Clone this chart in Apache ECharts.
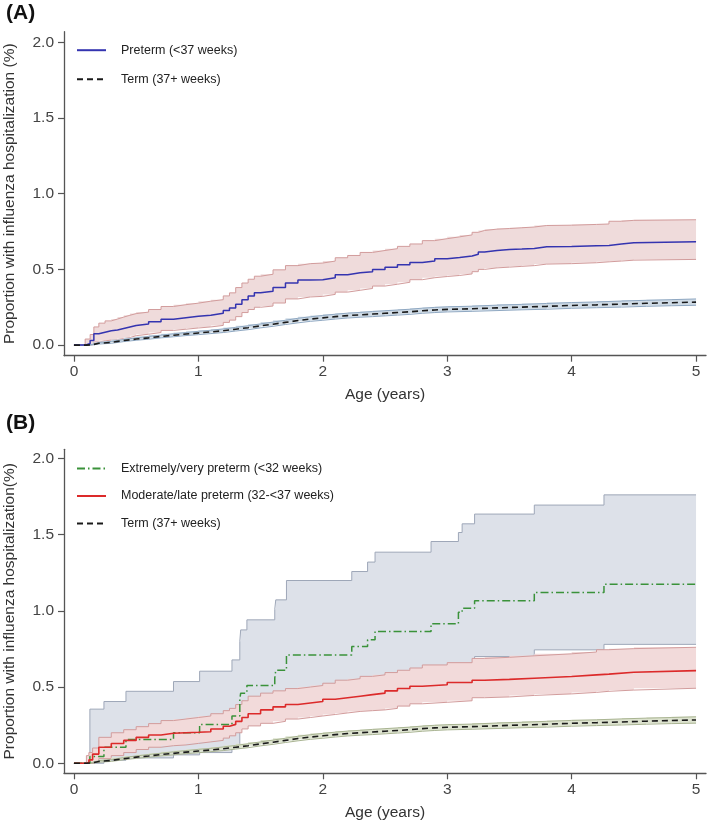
<!DOCTYPE html>
<html>
<head>
<meta charset="utf-8">
<script src="https://cdn.jsdelivr.net/npm/echarts@6/dist/echarts.min.js"></script>
<style>
html,body{margin:0;padding:0;background:#fff;}
#chart{width:709px;height:822px;}
</style>
</head>
<body>
<div id="chart"></div>
<script>
// ---------- Tick labels ----------
const xTicks = [0, 1, 2, 3, 4, 5];
const yTicks = [0, 0.5, 1.0, 1.5, 2.0];

// ---------- Panel A: Preterm (<37 weeks) ----------
const preT   = [0, 0.09, 0.13, 0.16, 0.2, 0.25, 0.3, 0.35, 0.4, 0.45, 0.5, 0.6, 0.7, 0.8, 0.9, 1.0, 1.1, 1.2, 1.25, 1.3, 1.35, 1.4, 1.45, 1.5, 1.6, 1.7, 1.8, 1.9, 2.0, 2.1, 2.2, 2.3, 2.4, 2.5, 2.6, 2.7, 2.8, 2.9, 3.0, 3.1, 3.2, 3.25, 3.3, 3.4, 3.5, 3.6, 3.7, 3.8, 4.0, 4.2, 4.3, 4.4, 4.5, 5.0];
const preEst = [0, 0.01, 0.03, 0.075, 0.085, 0.095, 0.1, 0.11, 0.12, 0.13, 0.14, 0.155, 0.17, 0.18, 0.19, 0.197, 0.21, 0.228, 0.245, 0.27, 0.3, 0.325, 0.345, 0.355, 0.38, 0.41, 0.43, 0.432, 0.445, 0.465, 0.478, 0.484, 0.5, 0.515, 0.53, 0.545, 0.556, 0.57, 0.578, 0.588, 0.6, 0.615, 0.625, 0.632, 0.634, 0.638, 0.65, 0.652, 0.656, 0.658, 0.667, 0.676, 0.682, 0.682];
const preHi  = [0, 0.04, 0.07, 0.12, 0.145, 0.16, 0.172, 0.185, 0.197, 0.208, 0.218, 0.235, 0.255, 0.267, 0.277, 0.29, 0.3, 0.325, 0.345, 0.38, 0.41, 0.435, 0.455, 0.468, 0.497, 0.525, 0.538, 0.542, 0.555, 0.577, 0.592, 0.612, 0.625, 0.637, 0.652, 0.668, 0.69, 0.703, 0.715, 0.728, 0.745, 0.757, 0.766, 0.77, 0.775, 0.78, 0.79, 0.792, 0.797, 0.8, 0.818, 0.824, 0.828, 0.828];
const preLo  = [0, 0, 0.005, 0.02, 0.028, 0.033, 0.037, 0.043, 0.05, 0.062, 0.072, 0.083, 0.097, 0.105, 0.113, 0.12, 0.13, 0.15, 0.165, 0.188, 0.215, 0.235, 0.25, 0.258, 0.278, 0.305, 0.318, 0.322, 0.335, 0.35, 0.362, 0.374, 0.39, 0.402, 0.415, 0.432, 0.445, 0.453, 0.46, 0.47, 0.485, 0.5, 0.51, 0.515, 0.52, 0.525, 0.535, 0.538, 0.544, 0.55, 0.555, 0.561, 0.566, 0.566];

// ---------- Term (37+ weeks), both panels ----------
const termT   = [0, 0.1, 0.15, 0.2, 0.3, 0.4, 0.5, 0.6, 0.7, 0.8, 0.9, 1.0, 1.1, 1.2, 1.3, 1.4, 1.5, 1.6, 1.7, 1.8, 1.9, 2.0, 2.1, 2.2, 2.3, 2.4, 2.5, 2.6, 2.7, 2.8, 2.9, 3.0, 3.2, 3.4, 3.6, 3.8, 4.0, 4.2, 4.4, 4.6, 4.8, 5.0];
const termEst = [0, 0.003, 0.012, 0.018, 0.03, 0.04, 0.048, 0.057, 0.065, 0.073, 0.08, 0.087, 0.095, 0.105, 0.115, 0.127, 0.138, 0.15, 0.162, 0.172, 0.18, 0.188, 0.195, 0.2, 0.205, 0.21, 0.215, 0.22, 0.227, 0.232, 0.236, 0.24, 0.246, 0.251, 0.256, 0.262, 0.266, 0.271, 0.276, 0.28, 0.284, 0.288];
const termHi  = [0, 0.005, 0.017, 0.024, 0.037, 0.048, 0.057, 0.066, 0.075, 0.083, 0.091, 0.098, 0.107, 0.117, 0.128, 0.14, 0.152, 0.164, 0.177, 0.187, 0.196, 0.204, 0.211, 0.216, 0.222, 0.227, 0.232, 0.237, 0.244, 0.249, 0.253, 0.257, 0.264, 0.269, 0.275, 0.281, 0.285, 0.291, 0.296, 0.3, 0.305, 0.309];
const termLo  = [0, 0.001, 0.007, 0.012, 0.023, 0.032, 0.039, 0.048, 0.055, 0.063, 0.069, 0.076, 0.083, 0.093, 0.102, 0.114, 0.124, 0.136, 0.147, 0.157, 0.164, 0.172, 0.179, 0.184, 0.188, 0.193, 0.198, 0.203, 0.21, 0.215, 0.219, 0.223, 0.228, 0.233, 0.237, 0.243, 0.247, 0.251, 0.256, 0.26, 0.263, 0.267];

// ---------- Panel B: Extremely/very preterm (<32 weeks) ----------
const evpT   = [0, 0.128, 0.241, 0.418, 0.80, 1.01, 1.27, 1.333, 1.34, 1.39, 1.614, 1.622, 1.708, 2.233, 2.36, 2.42, 2.87, 3.09, 3.12, 3.22, 3.70, 4.26, 5.0];
const evpEst = [0, 0.045, 0.105, 0.155, 0.20, 0.255, 0.31, 0.42, 0.46, 0.51, 0.56, 0.61, 0.711, 0.766, 0.81, 0.864, 0.915, 0.99, 1.017, 1.066, 1.12, 1.175, 1.175];
const evpHi  = [0, 0.355, 0.405, 0.472, 0.536, 0.604, 0.678, 0.80, 0.875, 0.941, 1.01, 1.072, 1.199, 1.258, 1.32, 1.385, 1.455, 1.514, 1.571, 1.635, 1.694, 1.761, 1.761];
const evpLo  = [0, 0.0, 0.02, 0.035, 0.055, 0.07, 0.1, 0.30, 0.31, 0.33, 0.36, 0.38, 0.42, 0.46, 0.5, 0.53, 0.6, 0.64, 0.65, 0.70, 0.744, 0.78, 0.78];

// ---------- Panel B: Moderate/late preterm (32-<37 weeks) ----------
const mlpT   = [0, 0.1, 0.12, 0.15, 0.2, 0.3, 0.4, 0.5, 0.6, 0.7, 0.8, 0.9, 1.0, 1.1, 1.2, 1.25, 1.3, 1.35, 1.4, 1.5, 1.6, 1.7, 1.8, 1.9, 2.0, 2.1, 2.2, 2.3, 2.4, 2.5, 2.6, 2.7, 2.8, 3.0, 3.2, 3.3, 3.5, 3.7, 4.0, 4.2, 4.3, 4.5, 5.0];
const mlpEst = [0, 0.005, 0.022, 0.06, 0.105, 0.13, 0.15, 0.17, 0.185, 0.197, 0.2, 0.203, 0.207, 0.225, 0.243, 0.255, 0.275, 0.3, 0.325, 0.35, 0.37, 0.385, 0.395, 0.405, 0.42, 0.43, 0.44, 0.45, 0.46, 0.475, 0.49, 0.505, 0.515, 0.53, 0.545, 0.55, 0.558, 0.569, 0.58, 0.585, 0.597, 0.608, 0.608];
const mlpHi  = [0, 0.05, 0.07, 0.1, 0.17, 0.2, 0.22, 0.24, 0.26, 0.28, 0.29, 0.3, 0.31, 0.325, 0.345, 0.36, 0.385, 0.41, 0.44, 0.46, 0.475, 0.49, 0.5, 0.51, 0.525, 0.545, 0.555, 0.57, 0.58, 0.595, 0.61, 0.625, 0.645, 0.66, 0.688, 0.695, 0.705, 0.718, 0.73, 0.745, 0.752, 0.761, 0.761];
const mlpLo  = [0, 0, 0, 0.01, 0.03, 0.05, 0.07, 0.09, 0.105, 0.115, 0.12, 0.13, 0.14, 0.15, 0.165, 0.18, 0.2, 0.225, 0.245, 0.262, 0.275, 0.29, 0.3, 0.31, 0.32, 0.33, 0.34, 0.345, 0.35, 0.36, 0.375, 0.39, 0.4, 0.41, 0.43, 0.435, 0.445, 0.455, 0.465, 0.472, 0.48, 0.492, 0.492];

// ---------- Names ----------
const nPre  = 'Preterm (<37 weeks)';
const nTerm = 'Term (37+ weeks)';
const nEvp  = 'Extremely/very preterm (<32 weeks)';
const nMlp  = 'Moderate/late preterm (32-<37 weeks)';

const FONT = '"Liberation Sans", Arial, sans-serif';

function pairs(t, v) { return t.map((x, i) => [x, v[i]]); }

// Step-shaped confidence band: filled polygon through the axis scales + edge lines
function band(key, t, lo, hi, fill, edge, idx, z) {
  const fillSeries = {
    type: 'custom', name: key + '_fill', xAxisIndex: idx, yAxisIndex: idx, silent: true, z: z,
    data: t.map((x, i) => [x, lo[i], hi[i]]),
    encode: { x: 0, y: [1, 2] },
    renderItem: function (params, api) {
      if (params.dataIndex !== 0) return null;
      const n = t.length, pts = [];
      for (let i = 0; i < n; i++) {
        pts.push(api.coord([t[i], hi[i]]));
        if (i < n - 1) pts.push(api.coord([t[i + 1], hi[i]]));
      }
      for (let i = n - 1; i >= 0; i--) {
        if (i < n - 1) pts.push(api.coord([t[i + 1], lo[i]]));
        pts.push(api.coord([t[i], lo[i]]));
      }
      return { type: 'polygon', shape: { points: pts }, style: { fill: fill }, silent: true };
    }
  };
  const edgeLine = (suffix, v) => ({
    type: 'line', name: key + suffix, xAxisIndex: idx, yAxisIndex: idx, step: 'end', symbol: 'none',
    silent: true, data: pairs(t, v), lineStyle: { color: edge, width: 1 }, z: z + 1
  });
  return [fillSeries, edgeLine('_lo', lo), edgeLine('_hi', hi)];
}
function est(name, t, v, color, type, width, idx) {
  return { type: 'line', name: name, xAxisIndex: idx, yAxisIndex: idx, step: 'end', symbol: 'none',
    data: pairs(t, v), lineStyle: { color: color, width: width, type: type }, itemStyle: { color: color }, z: 20 };
}

function xAxis(idx) {
  return {
    type: 'value', gridIndex: idx, min: -0.08, max: 5.08,
    name: 'Age (years)', nameLocation: 'middle', nameGap: 31,
    nameTextStyle: { fontFamily: FONT, fontSize: 15.5, color: '#333' },
    axisLine: { onZero: false, lineStyle: { color: '#555', width: 1.3 } },
    axisTick: { length: 6, lineStyle: { color: '#555', width: 1.2 }, customValues: xTicks },
    axisLabel: { customValues: xTicks, margin: 8, fontFamily: FONT, fontSize: 15.5, color: '#444',
      formatter: v => String(Math.round(v)) },
    splitLine: { show: false }
  };
}
function yAxis(idx, name, min, max) {
  return {
    type: 'value', gridIndex: idx, min: min, max: max,
    name: name, nameLocation: 'middle', nameGap: 46, nameRotate: 90,
    nameTextStyle: { fontFamily: FONT, fontSize: 15.5, color: '#333' },
    axisLine: { onZero: false, lineStyle: { color: '#555', width: 1.3 } },
    axisTick: { length: 6, lineStyle: { color: '#555', width: 1.2 }, customValues: yTicks },
    axisLabel: { customValues: yTicks, margin: 10, fontFamily: FONT, fontSize: 15.5, color: '#444',
      formatter: v => v.toFixed(1) },
    splitLine: { show: false }
  };
}

const legendCommon = {
  orient: 'vertical', left: 76, padding: 0, itemWidth: 29, itemHeight: 14, selectedMode: false,
  itemStyle: { opacity: 0, borderWidth: 0 },
  lineStyle: { opacity: 1 },
  textStyle: { fontFamily: FONT, fontSize: 12.5, color: '#222', padding: [0, 0, 0, 10] }
};

const chart = echarts.init(document.getElementById('chart'), null, { renderer: 'canvas' });
const option = {
  animation: false,
  backgroundColor: '#fff',
  title: [
    { text: '(A)', left: 6, top: 3, padding: 0, textStyle: { fontFamily: FONT, fontSize: 21, fontWeight: 'bold', color: '#111' } },
    { text: '(B)', left: 6, top: 413, padding: 0, textStyle: { fontFamily: FONT, fontSize: 21, fontWeight: 'bold', color: '#111' } }
  ],
  grid: [
    { left: 64, top: 31.7, width: 642, height: 324, containLabel: false, outerBoundsMode: 'none' },
    { left: 64, top: 449.3, width: 642, height: 324, containLabel: false, outerBoundsMode: 'none' }
  ],
  legend: [
    Object.assign({}, legendCommon, { data: [nPre, nTerm], top: 43.7, itemGap: 16 }),
    Object.assign({}, legendCommon, { data: [nEvp, nMlp, nTerm], top: 462, itemGap: 14.5 })
  ],
  xAxis: [xAxis(0), xAxis(1)],
  yAxis: [
    yAxis(0, 'Proportion with influenza hospitalization (%)', -0.07, 2.07),
    yAxis(1, 'Proportion with influenza hospitalization(%)', -0.066, 2.06)
  ],
  series: [].concat(
    band('preA', preT, preLo, preHi, '#efdbdb', '#d29c9c', 0, 2),
    band('termA', termT, termLo, termHi, '#cfdbe6', '#8fa8c2', 0, 5),
    [est(nPre, preT, preEst, '#3434b0', 'solid', 1.5, 0),
     est(nTerm, termT, termEst, '#1a1a1a', [6, 4], 1.6, 0)],

    band('evpB', evpT, evpLo, evpHi, '#dde1e9', '#9ea7b8', 1, 1),
    band('mlpB', mlpT, mlpLo, mlpHi, '#f2dada', '#d29c9c', 1, 4),
    band('termB', termT, termLo, termHi, '#dde3cf', '#a9b492', 1, 7),
    [est(nEvp, evpT, evpEst, '#3a923a', [8, 3, 1.5, 3], 1.5, 1),
     est(nMlp, mlpT, mlpEst, '#dc2a2a', 'solid', 1.6, 1),
     est(nTerm, termT, termEst, '#1a1a1a', [6, 4], 1.6, 1)]
  )
};
chart.setOption(option);
</script>
</body>
</html>
